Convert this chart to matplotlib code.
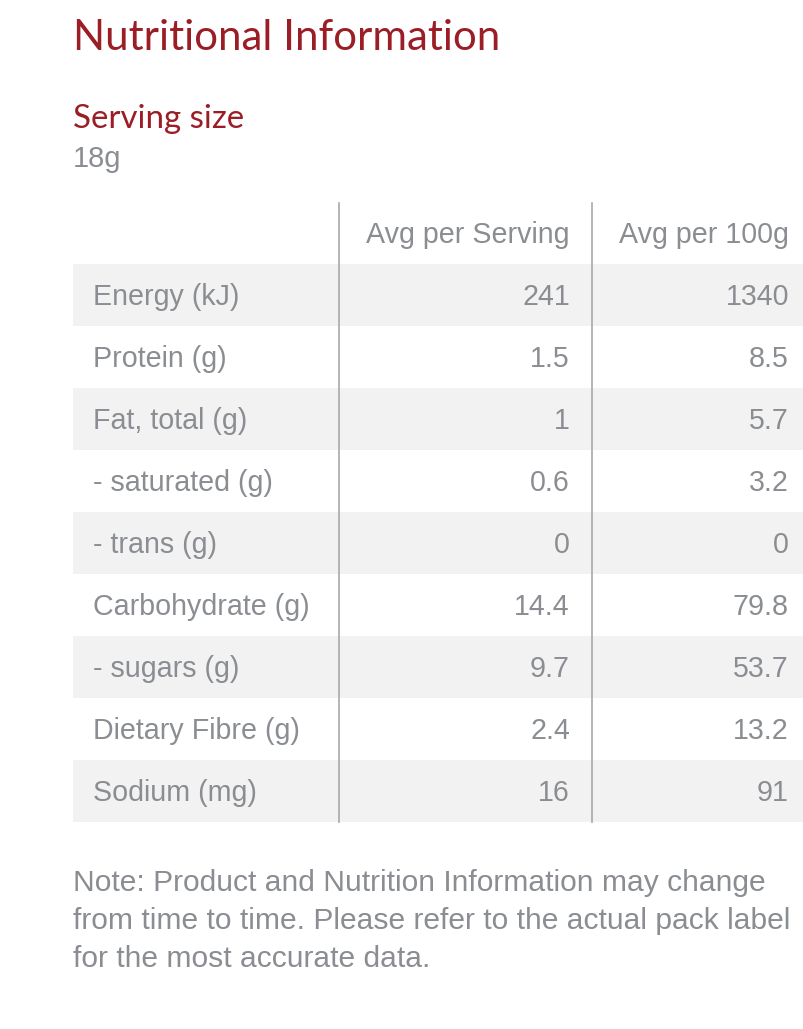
import matplotlib
matplotlib.use("Agg")
import matplotlib.pyplot as plt
from matplotlib.patches import Rectangle

title = "Nutritional Information"
serving_label = "Serving size"
serving_size = "18g"
col_headers = ["Avg per Serving", "Avg per 100g"]
nutrients = ["Energy (kJ)", "Protein (g)", "Fat, total (g)", "- saturated (g)",
             "- trans (g)", "Carbohydrate (g)", "- sugars (g)", "Dietary Fibre (g)",
             "Sodium (mg)"]
per_serving = ["241", "1.5", "1", "0.6", "0", "14.4", "9.7", "2.4", "16"]
per_100g = ["1340", "8.5", "5.7", "3.2", "0", "79.8", "53.7", "13.2", "91"]
note_lines = ["Note: Product and Nutrition Information may change",
              "from time to time. Please refer to the actual pack label",
              "for the most accurate data."]

W, H = 804, 1029
fig = plt.figure(figsize=(W / 100, H / 100), dpi=100)
ax = fig.add_axes([0, 0, 1, 1])
ax.set_xlim(0, W)
ax.set_ylim(H, 0)
ax.axis("off")

red = "#9b1d25"
gray = "#8a8d91"
shade = "#f2f2f2"
linec = "#a8a8a8"
px = 72 / 100  # points per pixel
tfs = 28.6 * px

ax.text(73, 38, title, color=red, fontsize=42 * px, family="Lato", fontweight="normal", va="center", ha="left")
ax.text(73, 119, serving_label, color=red, fontsize=33 * px, family="Lato", fontweight="normal", va="center", ha="left")
ax.text(73, 159, serving_size, color=gray, fontsize=29 * px, family="Liberation Sans", va="center", ha="left")

row_h = 62
top = 264
left, right = 73, 804
v1, v2 = 339, 592
for i, (n, a, b) in enumerate(zip(nutrients, per_serving, per_100g)):
    y0 = top + i * row_h
    if i % 2 == 0:
        ax.add_patch(Rectangle((left, y0), right - left, row_h, color=shade, lw=0, zorder=0))
    yc = y0 + row_h / 2 + 2
    ax.text(93, yc, n, color=gray, fontsize=tfs, family="Liberation Sans", va="center", ha="left")
    ax.text(570, yc, a, color=gray, fontsize=tfs, family="Liberation Sans", va="center", ha="right")
    ax.text(789, yc, b, color=gray, fontsize=tfs, family="Liberation Sans", va="center", ha="right")

ax.text(570, 235, col_headers[0], color=gray, fontsize=tfs, family="Liberation Sans", va="center", ha="right")
ax.text(789, 235, col_headers[1], color=gray, fontsize=tfs, family="Liberation Sans", va="center", ha="right")

bottom = top + row_h * len(nutrients)
for x in (v1, v2):
    ax.plot([x, x], [203, bottom], color=linec, lw=1.2, zorder=2)

for j, line in enumerate(note_lines):
    ax.text(73, 883 + j * 38, line, color=gray, fontsize=30 * px, family="Liberation Sans", va="center", ha="left")

fig.savefig("out.png", dpi=100)
